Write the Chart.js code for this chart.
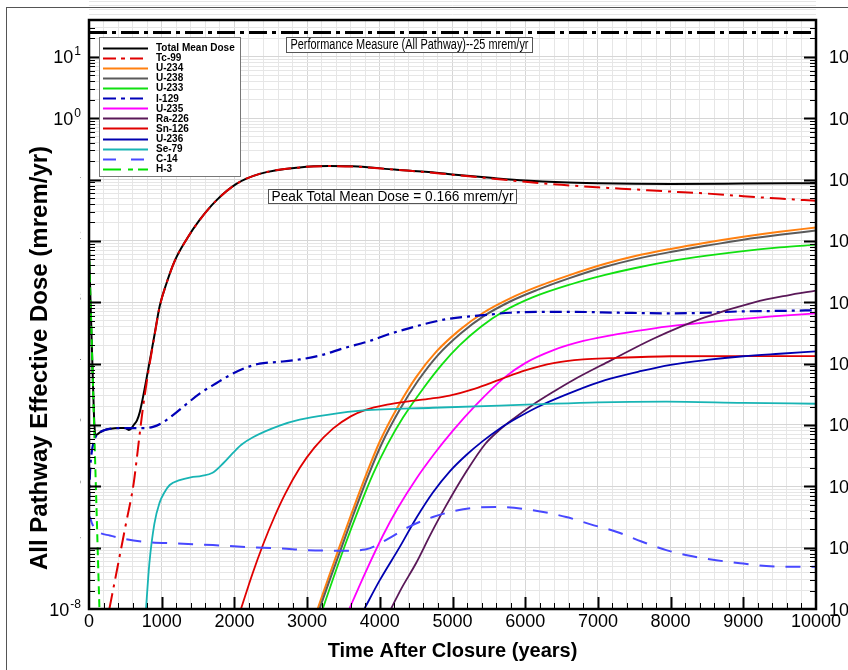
<!DOCTYPE html>
<html><head><meta charset="utf-8">
<script src="https://cdn.jsdelivr.net/npm/chart.js@4.4.1/dist/chart.umd.min.js"></script>
<style>html,body{margin:0;padding:0;background:#fff;overflow:hidden}</style>
</head><body>
<canvas id="c" width="848" height="670"></canvas>
<script>
// ---------------- DATA (mrem/yr vs years after closure) ----------------
const seriesNames = ['Total Mean Dose','Tc-99','U-234','U-238','U-233','I-129','U-235','Ra-226','Sn-126','U-236','Se-79','C-14','H-3'];
const xTickLabels = ['0','1000','2000','3000','4000','5000','6000','7000','8000','9000','10000'];
const yTickExponents = [1,0,-1,-2,-3,-4,-5,-6,-7,-8];
const performanceMeasure = 25;
const peakTotalMeanDose = 0.166;

const totalYears = [0,25,50,70,88,120,157,220,300,400,500,546,580,615,660,700,743,776,811,858,903,972,1064,1178,1339,1522,1752,2027,2347,2898,3300,3700,4200,4627,5000,5565,6000,6500,7000,7500,8000,9000,10000];
const totalDose  = [7.6e-3,7.2e-4,7.2e-5,1.3e-5,6.8e-6,7.1e-6,7.66e-6,8.32e-6,8.71e-6,8.91e-6,8.91e-6,8.32e-6,8.71e-6,1.0e-5,1.19e-5,1.65e-5,2.84e-5,4.53e-5,7.66e-5,1.54e-4,3.04e-4,8.6e-4,2.01e-3,4.69e-3,1.05e-2,2.20e-2,4.58e-2,8.52e-2,0.124,0.158,0.166,0.163,0.146,0.134,0.1216,0.106,0.0966,0.0902,0.0871,0.0855,0.0851,0.0861,0.0875];

const tc99Years = [280,400,500,616,660,700,743,776,811,858,903,972,1064,1178,1339,1522,1752,2027,2347,2898,3300,3700,4200,4627,5000,5565,6000,6500,7000,7500,8000,8400,9000,9500,10000];
const tc99Dose  = [1.0e-8,5.37e-8,2.19e-7,1.15e-6,3.02e-6,7.59e-6,1.95e-5,3.63e-5,6.76e-5,1.45e-4,2.95e-4,8.51e-4,2.0e-3,4.68e-3,1.05e-2,2.19e-2,4.57e-2,8.51e-2,0.124,0.158,0.166,0.162,0.145,0.133,0.120,0.1035,0.0923,0.0822,0.075,0.0692,0.0638,0.0603,0.0537,0.049,0.0452];

const u234Years = [3145,3300,3450,3600,3815,4000,4250,4500,4780,5100,5424,5800,6160,6600,7077,7500,8000,8500,9000,9500,10000];
const u234Dose  = [1.0e-8,3.39e-8,1.07e-7,3.31e-7,1.58e-6,5.37e-6,2.0e-5,6.03e-5,1.58e-4,3.55e-4,6.76e-4,1.17e-3,1.78e-3,2.75e-3,4.17e-3,5.62e-3,7.41e-3,9.44e-3,1.17e-2,1.41e-2,1.66e-2];

const u238Years = [3170,3325,3475,3625,3840,4025,4275,4525,4800,5120,5424,5800,6160,6600,7077,7500,8000,8500,9000,9500,10000];
const u238Dose  = [1.0e-8,3.31e-8,1.02e-7,3.16e-7,1.48e-6,4.90e-6,1.78e-5,5.25e-5,1.38e-4,3.16e-4,5.89e-4,1.04e-3,1.58e-3,2.45e-3,3.72e-3,5.01e-3,6.61e-3,8.41e-3,1.05e-2,1.26e-2,1.48e-2];

const u233Years = [3214,3380,3540,3700,3906,4100,4319,4600,4850,5100,5400,5700,6100,6620,7100,7500,8000,8500,9000,9500,10000];
const u233Dose  = [1.0e-8,3.72e-8,1.26e-7,3.98e-7,1.58e-6,4.68e-6,1.32e-5,3.98e-5,9.55e-5,2.0e-4,4.07e-4,7.08e-4,1.20e-3,1.95e-3,2.79e-3,3.59e-3,4.68e-3,5.75e-3,6.84e-3,7.85e-3,8.71e-3];

const i129Years = [0,10,20,40,60,88,150,200,300,400,600,752,880,1027,1155,1340,1522,1750,1935,2150,2347,2622,2898,3200,3500,3861,4100,4410,4700,4919,5424,5792,6200,6620,7300,8000,8500,8918,9500,10000];
const i129Dose  = [5.01e-7,1.26e-6,2.24e-6,3.80e-6,5.01e-6,6.31e-6,7.59e-6,8.13e-6,8.71e-6,8.91e-6,8.91e-6,8.91e-6,9.33e-6,1.12e-5,1.45e-5,2.19e-5,3.24e-5,4.79e-5,6.46e-5,8.51e-5,1.0e-4,1.07e-4,1.17e-4,1.38e-4,1.78e-4,2.34e-4,2.95e-4,3.80e-4,4.68e-4,5.31e-4,6.17e-4,6.76e-4,7.0e-4,7.0e-4,6.76e-4,6.61e-4,6.76e-4,7.08e-4,7.24e-4,7.41e-4];

const u235Years = [3580,3800,4043,4250,4500,4750,5000,5327,5700,6000,6389,6800,7309,7800,8229,8800,9400,10000];
const u235Dose  = [1.0e-8,3.89e-8,1.58e-7,4.47e-7,1.32e-6,3.39e-6,7.94e-6,2.14e-5,5.75e-5,1.02e-4,1.66e-4,2.34e-4,3.09e-4,3.80e-4,4.37e-4,5.13e-4,5.89e-4,6.61e-4];

const ra226Years = [4153,4300,4500,4700,4900,5190,5450,5648,5850,6106,6400,6656,7172,7770,8460,9150,9600,10000];
const ra226Dose  = [1.0e-8,2.19e-8,5.62e-8,1.66e-7,4.57e-7,1.74e-6,4.90e-6,8.32e-6,1.29e-5,2.14e-5,3.55e-5,5.37e-5,1.12e-4,2.57e-4,5.62e-4,1.0e-3,1.29e-3,1.55e-3];

const sn126Years = [2090,2250,2400,2550,2700,2900,3100,3355,3600,3815,4100,4365,4700,4960,5300,5650,6000,6389,6800,7172,8000,9000,10000];
const sn126Dose  = [1.0e-8,3.80e-8,1.17e-7,3.16e-7,7.59e-7,2.0e-6,4.27e-6,8.71e-6,1.38e-5,1.78e-5,2.14e-5,2.40e-5,2.69e-5,3.02e-5,3.89e-5,5.50e-5,7.76e-5,1.02e-4,1.17e-4,1.23e-4,1.32e-4,1.33e-4,1.33e-4];

const u236Years = [3787,4000,4273,4500,4730,4960,5190,5420,5648,5900,6200,6700,7100,7600,8000,8500,9000,9500,10000];
const u236Dose  = [1.0e-8,2.95e-8,1.02e-7,3.02e-7,7.94e-7,1.74e-6,3.24e-6,5.50e-6,8.71e-6,1.32e-5,2.04e-5,3.63e-5,5.37e-5,7.59e-5,9.55e-5,1.15e-4,1.32e-4,1.45e-4,1.58e-4];

const se79Years = [784,830,899,970,1037,1110,1247,1400,1550,1700,1850,1980,2100,2255,2622,2898,3300,3768,4730,6105,7000,7940,9000,10000];
const se79Dose  = [1.0e-8,5.5e-8,2.45e-7,5.37e-7,7.94e-7,1.05e-6,1.26e-6,1.40e-6,1.48e-6,1.66e-6,2.4e-6,3.5e-6,4.8e-6,6.31e-6,9.77e-6,1.22e-5,1.48e-5,1.73e-5,1.91e-5,2.16e-5,2.34e-5,2.40e-5,2.29e-5,2.22e-5];

const c14Years = [0,10,40,78,150,285,500,789,1200,1705,2200,2622,3000,3450,3800,4107,4400,4730,5000,5300,5648,6106,6564,6900,7252,7600,7940,8300,8628,9000,9316,9700,10000];
const c14Dose  = [2.6e-7,3.16e-7,2.51e-7,2.04e-7,1.74e-7,1.58e-7,1.38e-7,1.24e-7,1.17e-7,1.10e-7,1.02e-7,9.77e-8,9.12e-8,8.91e-8,9.33e-8,1.38e-7,2.19e-7,3.16e-7,3.89e-7,4.47e-7,4.60e-7,4.07e-7,3.16e-7,2.40e-7,1.82e-7,1.26e-7,9.12e-8,7.24e-8,6.24e-8,5.50e-8,5.01e-8,4.90e-8,4.90e-8];

const h3Years = [0,25,50,75,100,125,146];
const h3Dose  = [7.6e-3,7.2e-4,6.8e-5,6.3e-6,6.0e-7,5.6e-8,7.9e-9];

// ---------------- build datasets ----------------
const zip = (xs, ys) => xs.map((x, i) => ({x, y: ys[i]}));
const seriesData = [
  zip(totalYears,totalDose), zip(tc99Years,tc99Dose), zip(u234Years,u234Dose), zip(u238Years,u238Dose),
  zip(u233Years,u233Dose), zip(i129Years,i129Dose), zip(u235Years,u235Dose), zip(ra226Years,ra226Dose),
  zip(sn126Years,sn126Dose), zip(u236Years,u236Dose), zip(se79Years,se79Dose), zip(c14Years,c14Dose), zip(h3Years,h3Dose)
];
const styles = [
  {c:'#000000', w:2,   d:[],          ld:[]},
  {c:'#e00000', w:2,   d:[16,6,3,6],  ld:[13,5,4,5]},
  {c:'#ff8010', w:2,   d:[],          ld:[]},
  {c:'#5a5a5a', w:2,   d:[],          ld:[]},
  {c:'#10e010', w:1.8, d:[],          ld:[]},
  {c:'#0000b8', w:2.2, d:[12,5,3,5],  ld:[13,5,4,5]},
  {c:'#ff00ff', w:1.8, d:[],          ld:[]},
  {c:'#5a1858', w:1.8, d:[],          ld:[]},
  {c:'#e00000', w:1.8, d:[],          ld:[]},
  {c:'#0000b0', w:1.8, d:[],          ld:[]},
  {c:'#18b4b4', w:1.8, d:[],          ld:[]},
  {c:'#4848ff', w:2,   d:[15,11],     ld:[13,15]},
  {c:'#00e000', w:2,   d:[8,5],       ld:[18,7,5,5]}
];
const datasets = seriesNames.map((name, i) => ({
  label: name,
  data: seriesData[i],
  borderColor: styles[i].c,
  borderWidth: styles[i].w,
  borderDash: styles[i].d,
  legendDash: styles[i].ld,
  pointRadius: 0,
  cubicInterpolationMode: 'monotone',
  fill: false,
  order: seriesNames.length - i
}));
datasets.push({
  label: 'Performance Measure',
  data: [{x: 0, y: performanceMeasure}, {x: 10000, y: performanceMeasure}],
  borderColor: '#000', borderWidth: 3, borderDash: [18,5,4,5],
  pointRadius: 0, fill: false, order: 0, skipLegend: true
});

const yGridValues = [];
for (let e = -8; e <= 1; e++) for (let m = 1; m <= 9; m++) yGridValues.push(+(m + 'e' + e));
yGridValues.push(20, 30, 40);

const FONT = "'Liberation Sans', Arial, Helvetica, sans-serif";

const decor = {
  id: 'decor',
  beforeDraw(chart) {
    const ctx = chart.ctx;
    ctx.save(); ctx.fillStyle = '#fff'; ctx.fillRect(0, 0, chart.width, chart.height); ctx.restore();
  },
  afterDatasetsDraw(chart) {
    const {ctx, chartArea: a, scales: {x, y}} = chart;
    ctx.save();
    ctx.strokeStyle = '#000';
    y.ticks.forEach(t => {
      const v = t.value;
      const py = Math.round(y.getPixelForValue(v)) + 0.5;
      if (py < a.top + 1 || py > a.bottom - 1) return;
      const major = Math.abs(Math.log10(v) - Math.round(Math.log10(v))) < 1e-9;
      const len = major ? 12 : 6;
      ctx.lineWidth = major ? 2 : 1;
      ctx.beginPath();
      ctx.moveTo(a.left, py); ctx.lineTo(a.left + len, py);
      ctx.moveTo(a.right, py); ctx.lineTo(a.right - len, py);
      ctx.stroke();
    });
    x.ticks.forEach(t => {
      const v = t.value;
      const px = Math.round(x.getPixelForValue(v)) + 0.5;
      if (px < a.left + 1 || px > a.right - 1) return;
      const major = v % 1000 === 0;
      const len = major ? 12 : 6;
      ctx.lineWidth = major ? 2 : 1;
      ctx.beginPath(); ctx.moveTo(px, a.bottom); ctx.lineTo(px, a.bottom - len); ctx.stroke();
    });
    ctx.lineWidth = 2.5;
    ctx.strokeRect(a.left, a.top, a.right - a.left, a.bottom - a.top);
    ctx.restore();
  },
  afterDraw(chart) {
    const {ctx, chartArea: a, scales: {x, y}} = chart;
    ctx.save();
    ctx.strokeStyle = '#555'; ctx.lineWidth = 1;
    ctx.strokeRect(6.5, 7.5, chart.width + 20, chart.height + 20);

    // y tick labels with superscript exponents, both sides
    ctx.fillStyle = '#000';
    ctx.textBaseline = 'alphabetic';
    yTickExponents.forEach(e => {
      const py = y.getPixelForValue(Math.pow(10, e));
      ctx.font = '18px ' + FONT;
      const wb = ctx.measureText('10').width;
      ctx.font = '12px ' + FONT;
      const es = String(e);
      const we = ctx.measureText(es).width;
      let x0 = a.left - 8 - (wb + 1 + we);
      ctx.textAlign = 'left';
      ctx.font = '18px ' + FONT; ctx.fillText('10', x0, py + 6.5);
      ctx.font = '12px ' + FONT; ctx.fillText(es, x0 + wb + 1, py - 1.5);
      x0 = a.right + 13;
      ctx.font = '18px ' + FONT; ctx.fillText('10', x0, py + 6.5);
      ctx.font = '12px ' + FONT; ctx.fillText(es, x0 + wb + 1, py - 1.5);
    });

    // axis titles
    ctx.font = 'bold 20px ' + FONT;
    ctx.textAlign = 'center'; ctx.textBaseline = 'middle';
    ctx.fillText('Time After Closure (years)', (a.left + a.right) / 2, 651);
    // y title sits in an opaque box over the left labels
    ctx.fillStyle = '#fff';
    ctx.fillRect(20, 134, 60, 450);
    ctx.fillStyle = '#000';
    ctx.save();
    ctx.translate(40, 358);
    ctx.rotate(-Math.PI / 2);
    ctx.font = 'bold 24px ' + FONT;
    ctx.fillText('All Pathway Effective Dose (mrem/yr)', 0, 0);
    ctx.restore();

    // annotation boxes
    const box = (text, left, top, w, h, targetW) => {
      ctx.fillStyle = '#fff'; ctx.fillRect(left, top, w, h);
      ctx.strokeStyle = '#555'; ctx.lineWidth = 1; ctx.strokeRect(left + 0.5, top + 0.5, w, h);
      ctx.fillStyle = '#000';
      ctx.font = '14px ' + FONT;
      ctx.textAlign = 'center'; ctx.textBaseline = 'middle';
      const nat = ctx.measureText(text).width;
      const sx = targetW ? Math.min(1, targetW / nat) : 1;
      ctx.save();
      ctx.translate(left + w / 2 + 0.5, top + h / 2 + 1);
      ctx.scale(sx, 1);
      ctx.fillText(text, 0, 0);
      ctx.restore();
    };
    box('Performance Measure (All Pathway)--' + performanceMeasure + ' mrem/yr', 286, 37, 246, 15, 238);
    box('Peak Total Mean Dose = ' + peakTotalMeanDose + ' mrem/yr', 268, 189, 248, 14, 242);

    // legend
    const lx = 99, ly = 37, lw = 141, lh = 139;
    ctx.fillStyle = '#fff'; ctx.fillRect(lx, ly, lw, lh);
    ctx.strokeStyle = '#777'; ctx.lineWidth = 1; ctx.strokeRect(lx + 0.5, ly + 0.5, lw, lh);
    ctx.font = 'bold 10px ' + FONT;
    ctx.textAlign = 'left'; ctx.textBaseline = 'middle';
    chart.data.datasets.forEach((ds, i) => {
      if (ds.skipLegend) return;
      const ry = ly + 11 + i * 10.06;
      ctx.strokeStyle = ds.borderColor; ctx.lineWidth = 2;
      ctx.setLineDash(ds.legendDash || []);
      ctx.beginPath(); ctx.moveTo(103, Math.round(ry) + 0.5); ctx.lineTo(148, Math.round(ry) + 0.5); ctx.stroke();
      ctx.setLineDash([]);
      ctx.fillStyle = '#000';
      ctx.fillText(ds.label, 156, ry + 0.5);
    });
    ctx.restore();
  }
};

new Chart(document.getElementById('c'), {
  type: 'line',
  data: { datasets },
  options: {
    responsive: false,
    animation: false,
    devicePixelRatio: 1,
    layout: { padding: { top: 20, right: 32, left: 0, bottom: 0 } },
    plugins: { legend: { display: false }, tooltip: { enabled: false }, title: { display: false } },
    scales: {
      x: {
        type: 'linear', min: 0, max: 10000,
        border: { display: false },
        grid: { drawTicks: false, color: c => (c.tick && c.tick.value % 1000 === 0) ? '#d6d6d6' : '#e6e6e6', lineWidth: 1 },
        ticks: {
          stepSize: 200, autoSkip: false, maxRotation: 0, padding: 2, color: '#000',
          font: { family: FONT, size: 18 },
          callback: v => (v % 1000 === 0) ? xTickLabels[v / 1000] : ''
        },
        afterFit: s => { s.height = 61; }
      },
      y: {
        type: 'logarithmic', min: 1e-8, max: 40,
        border: { display: false },
        grid: {
          drawTicks: false, lineWidth: 1,
          color: c => {
            const v = c.tick ? c.tick.value : 1;
            const l = Math.log10(v);
            return Math.abs(l - Math.round(l)) < 1e-9 ? '#d6d6d6' : '#e6e6e6';
          }
        },
        ticks: { display: false },
        afterBuildTicks: s => { s.ticks = yGridValues.map(v => ({ value: v })); },
        afterFit: s => { s.width = 89; }
      }
    }
  },
  plugins: [decor]
});
</script>
</body></html>
